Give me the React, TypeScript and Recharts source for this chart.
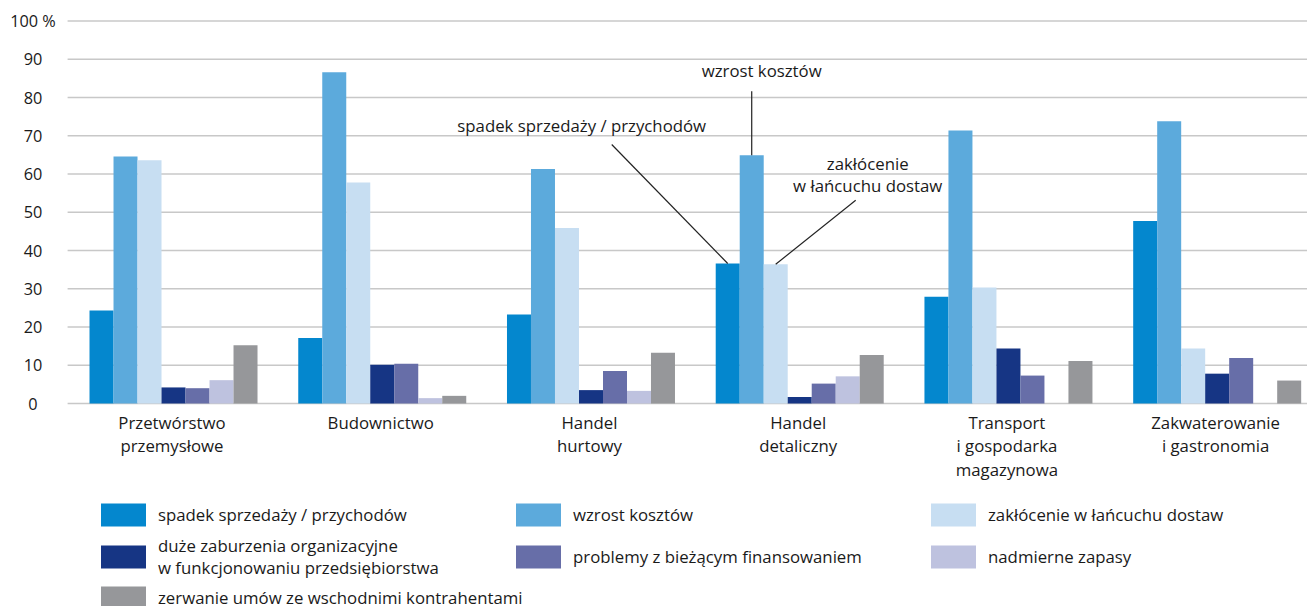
import React from "react";
import { BarChart, Bar, XAxis, YAxis, CartesianGrid, LabelList } from "recharts";

// categories (sectors)
const categories = [
  "Przetwórstwo\nprzemysłowe",
  "Budownictwo",
  "Handel\nhurtowy",
  "Handel\ndetaliczny",
  "Transport\ni gospodarka\nmagazynowa",
  "Zakwaterowanie\ni gastronomia",
];

// % of firms per problem
const spadekSprzedazy = [24.3, 17.1, 23.3, 36.6, 27.9, 47.7];
const wzrostKosztow = [64.6, 86.6, 61.3, 64.9, 71.4, 73.8];
const zaklocenieDostaw = [63.6, 57.8, 45.9, 36.4, 30.3, 14.4];
const zaburzeniaOrganizacyjne = [4.2, 10.1, 3.5, 1.7, 14.4, 7.8];
const problemyFinansowanie = [4.0, 10.4, 8.5, 5.2, 7.3, 11.9];
const nadmierneZapasy = [6.1, 1.4, 3.3, 7.1, 0, 0];
const zerwanieUmow = [15.2, 2.0, 13.3, 12.7, 11.1, 6.0];

const yTicks = [0, 10, 20, 30, 40, 50, 60, 70, 80, 90, 100];

const series = [
  { key: "s1", name: "spadek sprzedaży / przychodów", color: "#0487CE", values: spadekSprzedazy },
  { key: "s2", name: "wzrost kosztów", color: "#5CAADC", values: wzrostKosztow },
  { key: "s3", name: "zakłócenie w łańcuchu dostaw", color: "#C7DEF2", values: zaklocenieDostaw },
  { key: "s4", name: "duże zaburzenia organizacyjne\nw funkcjonowaniu przedsiębiorstwa", color: "#163584", values: zaburzeniaOrganizacyjne },
  { key: "s5", name: "problemy z bieżącym finansowaniem", color: "#676EA8", values: problemyFinansowanie },
  { key: "s6", name: "nadmierne zapasy", color: "#BEC2DF", values: nadmierneZapasy },
  { key: "s7", name: "zerwanie umów ze wschodnimi kontrahentami", color: "#96979A", values: zerwanieUmow },
];

const data = categories.map((c, i) => {
  const row: Record<string, string | number> = { category: c };
  series.forEach((s) => (row[s.key] = s.values[i]));
  return row;
});

const FONT = "'Open Sans', sans-serif";
const TEXT = "#1a1a1a";
const FS = 16.8; // labels, notes, legend
const TICK_FS = 16.3;
const HIGHLIGHT = 3; // Handel detaliczny

function YTick({ y, payload }: any) {
  return (
    <text x={33} y={y} textAnchor="middle" dominantBaseline="central" fontSize={TICK_FS} fill={TEXT} fontFamily={FONT}>
      {payload.value === 100 ? "100 %" : payload.value}
    </text>
  );
}

function XTick({ x, y, payload }: any) {
  const lines = String(payload.value).split("\n");
  return (
    <text x={x} y={y + 17} textAnchor="middle" fontSize={FS} fill={TEXT} fontFamily={FONT}>
      {lines.map((l, i) => (
        <tspan key={i} x={x} dy={i === 0 ? 0 : 23.5}>
          {l}
        </tspan>
      ))}
    </text>
  );
}

const annStyle = { fontSize: FS, fill: TEXT, fontFamily: FONT };

function SpadekNote(p: any) {
  if (p.index !== HIGHLIGHT) return null;
  const cx = p.x + p.width / 2;
  return (
    <g>
      <line x1={cx} y1={p.y} x2={cx - 116} y2={p.y - 119} stroke="#222" strokeWidth={1.2} />
      <text x={cx - 146} y={p.y - 138} textAnchor="middle" dominantBaseline="central" {...annStyle}>
        spadek sprzedaży / przychodów
      </text>
    </g>
  );
}

function KosztyNote(p: any) {
  if (p.index !== HIGHLIGHT) return null;
  const cx = p.x + p.width / 2;
  return (
    <g>
      <line x1={cx} y1={p.y} x2={cx} y2={p.y - 64} stroke="#222" strokeWidth={1.2} />
      <text x={cx + 10} y={p.y - 85} textAnchor="middle" dominantBaseline="central" {...annStyle}>
        wzrost kosztów
      </text>
    </g>
  );
}

function DostawyNote(p: any) {
  if (p.index !== HIGHLIGHT) return null;
  const cx = p.x + p.width / 2;
  return (
    <g>
      <line x1={cx} y1={p.y} x2={cx + 80} y2={p.y - 64} stroke="#222" strokeWidth={1.2} />
      <text x={cx + 92} y={p.y - 101} textAnchor="middle" dominantBaseline="central" {...annStyle}>
        zakłócenie
      </text>
      <text x={cx + 92} y={p.y - 79} textAnchor="middle" dominantBaseline="central" {...annStyle}>
        w łańcuchu dostaw
      </text>
    </g>
  );
}

const notes: Record<string, (p: any) => any> = { s1: SpadekNote, s2: KosztyNote, s3: DostawyNote };

export default function App() {
  return (
    <div
      style={{
        position: "absolute",
        left: 0,
        top: 0,
        width: 1307,
        height: 606,
        overflow: "hidden",
        background: "#fff",
        fontFamily: FONT,
      }}
    >
      <BarChart
        width={1320}
        height={490}
        data={data}
        margin={{ top: 21, right: 0, left: 0, bottom: 0 }}
        barCategoryGap="10.5%"
        barGap={0}
      >
        <CartesianGrid vertical={false} stroke="#c8c8c8" strokeWidth={1.5} />
        <XAxis dataKey="category" axisLine={false} tickLine={false} tick={<XTick />} interval={0} height={86.5} />
        <YAxis
          domain={[0, 100]}
          ticks={yTicks}
          axisLine={false}
          tickLine={false}
          width={67.6}
          tick={<YTick />}
          interval={0}
        />
        {series.map((s) => (
          <Bar key={s.key} dataKey={s.key} name={s.name} fill={s.color} isAnimationActive={false}>
            {notes[s.key] && <LabelList dataKey={s.key} content={notes[s.key]} />}
          </Bar>
        ))}
      </BarChart>

      {series.map((s, i) => {
        const col = i % 3;
        const row = Math.floor(i / 3);
        return (
          <div
            key={s.key}
            style={{
              position: "absolute",
              left: 101 + col * 415,
              top: 515 + row * 41.5,
              transform: "translateY(-50%)",
              display: "flex",
              alignItems: "center",
              fontSize: FS,
              lineHeight: "22.5px",
              color: TEXT,
              whiteSpace: "pre",
            }}
          >
            <div style={{ width: 45, height: 23, background: s.color, marginRight: 12, flexShrink: 0 }} />
            <div>{s.name}</div>
          </div>
        );
      })}
    </div>
  );
}
